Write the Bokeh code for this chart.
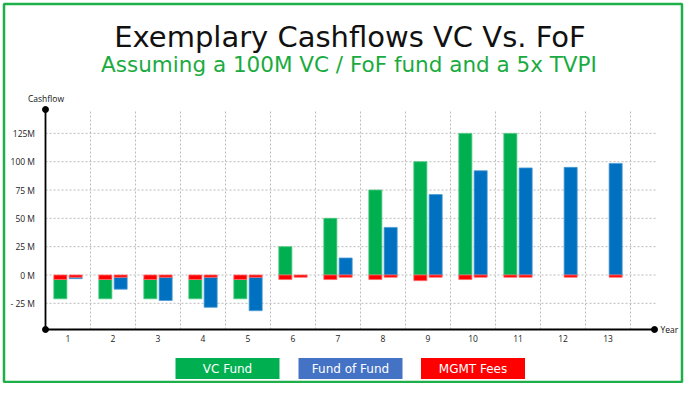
from bokeh.plotting import figure
from bokeh.models import ColumnDataSource, Range1d, Label
from bokeh.embed import file_html
from bokeh.resources import INLINE
from bokeh.core.properties import value

# ---------------- data ----------------
years = list(range(1, 14))
vc_fees = [-4, -4, -4, -4, -4, -4, -4, -4, -5, -4, -2, 0, 0]
vc_flows = [-17, -17, -17, -17, -17, 25, 50, 75, 100, 125, 125, 0, 0]
fof_fees = [-2, -2, -2, -2, -2, -2, -2, -2, -2, -2, -2, -2, -2]
fof_flows = [-1.2, -10.5, -20.5, -26.5, -29.5, 0, 15, 42, 71, 92, 94.5, 95, 98.5]
y_ticks = [-25, 0, 25, 50, 75, 100, 125]
y_labels = ["- 25 M", "0 M", "25 M", "50 M", "75 M", "100 M", "125M"]
x_labels = [str(y) for y in years]
series_names = ["VC Fund", "Fund of Fund", "MGMT Fees"]

TITLE = "Exemplary Cashflows VC Vs. FoF"
SUBTITLE = "Assuming a 100M VC / FoF fund and a 5x TVPI"
Y_NAME = "Cashflow"
X_NAME = "Year"

GREEN = "#00B050"
BLUE = "#0070C0"
RED = "#FF0000"
LEG_BLUE = "#4472C4"
BORDER = "#1DB04A"
SMALL_FONT = "Open Sans"
BIG_FONT = "DejaVu Sans"

# ---------------- layout (pixel <-> data mapping) ----------------
W, H = 684, 383
PX_PER_YEAR = 45.0
PX_PER_M = 1.133
X_HALF_PX = 45.0     # pixel column of x = 0.5
ZERO_PX = 274.5      # pixel row of y = 0


def xd(px):
    return 0.5 + (px - X_HALF_PX) / PX_PER_YEAR


def yd(py):
    return (ZERO_PX - py) / PX_PER_M


X_AXIS_START, X_AXIS_END = 0.5, xd(654)
GRID_END = xd(656)
Y_AXIS_BOTTOM, Y_AXIS_TOP = yd(329), yd(109)
BAR_W = 0.29
OFF_VC, OFF_FOF = -0.17, 0.17


def build(fees, flows, offset):
    flow_q = dict(left=[], right=[], bottom=[], top=[])
    fee_q = dict(left=[], right=[], bottom=[], top=[])
    for yr, fee, flow in zip(years, fees, flows):
        c = yr + offset
        if flow != 0:
            if flow < 0:
                b, t = fee + flow, fee
            else:
                b, t = 0, flow
            flow_q["left"].append(c - BAR_W / 2)
            flow_q["right"].append(c + BAR_W / 2)
            flow_q["bottom"].append(b)
            flow_q["top"].append(t)
        if fee != 0:
            fee_q["left"].append(c - BAR_W / 2)
            fee_q["right"].append(c + BAR_W / 2)
            fee_q["bottom"].append(fee)
            fee_q["top"].append(0)
    return ColumnDataSource(flow_q), ColumnDataSource(fee_q)


vc_src, vc_fee_src = build(vc_fees, vc_flows, OFF_VC)
fof_src, fof_fee_src = build(fof_fees, fof_flows, OFF_FOF)

p = figure(width=W, height=H, output_backend="svg", toolbar_location=None,
           x_range=Range1d(xd(0), xd(W)), y_range=Range1d(yd(H), yd(0)),
           x_axis_type=None, y_axis_type=None, min_border=0)
p.outline_line_color = None
p.background_fill_color = "white"
p.border_fill_color = "white"
p.xgrid.grid_line_color = None
p.ygrid.grid_line_color = None

# outer green frame
p.quad(left=[xd(3.5)], right=[xd(681.5)], top=[yd(3.5)], bottom=[yd(381.5)],
       fill_color=None, line_color=BORDER, line_width=2.5)

# gridlines
p.segment(x0=[X_AXIS_START] * len(y_ticks), x1=[GRID_END] * len(y_ticks),
          y0=y_ticks, y1=y_ticks, line_color="#BBBBBB", line_width=1, line_dash="2 2")
vx = [y + 0.5 for y in years]
p.segment(x0=vx, x1=vx, y0=[Y_AXIS_BOTTOM] * len(vx), y1=[Y_AXIS_TOP] * len(vx),
          line_color="#BBBBBB", line_width=1, line_dash="2 2")

# bars
p.quad(left="left", right="right", bottom="bottom", top="top", source=vc_src,
       fill_color=GREEN, line_color="#4CC97F", line_width=0.8)
p.quad(left="left", right="right", bottom="bottom", top="top", source=fof_src,
       fill_color=BLUE, line_color="#4A9BD6", line_width=0.8)
p.quad(left="left", right="right", bottom="bottom", top="top", source=vc_fee_src,
       fill_color=RED, line_color="#FF6A6A", line_width=0.8)
p.quad(left="left", right="right", bottom="bottom", top="top", source=fof_fee_src,
       fill_color=RED, line_color="#FF6A6A", line_width=0.8)

# axis lines with end dots
p.segment(x0=[X_AXIS_START, X_AXIS_START], x1=[X_AXIS_START, X_AXIS_END],
          y0=[Y_AXIS_BOTTOM, Y_AXIS_BOTTOM], y1=[Y_AXIS_TOP, Y_AXIS_BOTTOM],
          line_color="black", line_width=1.8)
p.scatter(x=[X_AXIS_START, X_AXIS_START, X_AXIS_END],
          y=[Y_AXIS_TOP, Y_AXIS_BOTTOM, Y_AXIS_BOTTOM], size=6, color="black")

# tick labels
p.text(x=[xd(34.5)] * len(y_ticks), y=y_ticks, text=y_labels,
       text_font=value(SMALL_FONT), text_font_size=value("8.5px"), text_color="#222222",
       text_align="right", text_baseline="middle")
p.text(x=years, y=[yd(337.5)] * len(years), text=x_labels,
       text_font=value(SMALL_FONT), text_font_size=value("8.5px"), text_color="#222222",
       text_align="center", text_baseline="middle")

# axis names
p.add_layout(Label(x=xd(45.5), y=yd(98), text=Y_NAME, text_font=SMALL_FONT,
                   text_font_size="8.5px", text_color="#111111",
                   text_align="center", text_baseline="middle"))
p.add_layout(Label(x=xd(660), y=yd(329), text=X_NAME, text_font=SMALL_FONT,
                   text_font_size="8.5px", text_color="#111111",
                   text_align="left", text_baseline="middle"))

# titles
p.add_layout(Label(x=xd(349.5), y=yd(36.7), text=TITLE, text_font=BIG_FONT,
                   text_font_size="29px", text_color="#111111",
                   text_align="center", text_baseline="alphabetic"))
p.add_layout(Label(x=xd(348.5), y=yd(64), text=SUBTITLE, text_font=BIG_FONT,
                   text_font_size="21.5px", text_color="#1AAB40",
                   text_align="center", text_baseline="alphabetic"))

# legend boxes
leg_colors = [GREEN, LEG_BLUE, RED]
leg_cx = [xd(227), xd(350), xd(472.5)]
leg_cy = [yd(368)] * 3
p.rect(x=leg_cx, y=leg_cy, width=104, height=21, width_units="screen",
       height_units="screen", fill_color=leg_colors, line_color=None)
p.text(x=leg_cx, y=leg_cy, text=series_names, text_font=value(BIG_FONT),
       text_font_size=value("12px"), text_color="white",
       text_align="center", text_baseline="middle")

open("out.html", "w").write(file_html(p, INLINE))
